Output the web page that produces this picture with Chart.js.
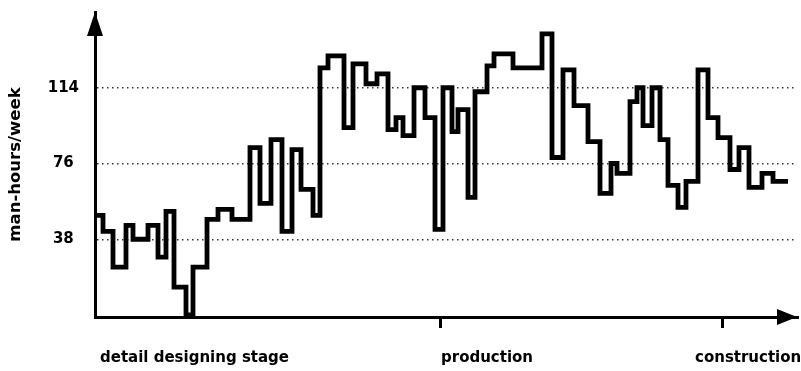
<!DOCTYPE html>
<html>
<head>
<meta charset="utf-8">
<script src="https://cdn.jsdelivr.net/npm/chart.js@4/dist/chart.umd.min.js"></script>
<style>
  html, body { margin: 0; padding: 0; background: #ffffff; }
  #wrap { width: 801px; height: 371px; }
</style>
</head>
<body>
<div id="wrap"><canvas id="c" width="801" height="371"></canvas></div>
<script>
// time position (start of each step) and man-hours/week
const weekStart = [0, 8, 18, 31, 38, 53, 63, 71, 79, 91, 98, 112, 123, 137, 155, 165, 176, 187, 197, 206, 218, 225, 233, 249, 258, 271, 282, 293, 301, 308, 319, 330, 340, 348, 357, 363, 373, 380, 392, 399, 418, 447, 457, 468, 479, 493, 505, 516, 522, 535, 542, 548, 557, 565, 573, 583, 591, 603, 613, 623, 635, 644, 654, 667, 678, 693];
const manHours  = [50, 42, 24, 45, 38, 45, 29, 52, 14, 0, 24, 48, 53, 48, 84, 56, 88, 42, 83, 63, 50, 124, 130, 94, 126, 116, 121, 93, 99, 90, 114, 99, 43, 114, 92, 103, 59, 112, 125, 131, 124, 141, 79, 123, 105, 87, 61, 76, 71, 107, 114, 95, 114, 88, 65, 54, 67, 123, 99, 89, 73, 84, 64, 71, 67, 67];
const yTickValues = [38, 76, 114];
const stageTickValues = [345, 627];
const stageLabelPos = [5, 346, 600];
const stageLabels = ['detail designing stage', 'production', 'construction'];
const yTitle = 'man-hours/week';

const points = weekStart.map((w, i) => ({ x: w, y: manHours[i] }));

Chart.defaults.font.family = "'DejaVu Sans', sans-serif";
Chart.defaults.color = '#000';

function noPad(s) { s.paddingTop = 0; s.paddingBottom = 0; s.paddingLeft = 0; s.paddingRight = 0; }

const arrows = {
  id: 'arrows',
  afterDraw(chart) {
    const { ctx, chartArea: a } = chart;
    ctx.save();
    ctx.fillStyle = '#000';
    ctx.beginPath();
    ctx.moveTo(a.left, a.top);
    ctx.lineTo(a.left - 8, a.top + 24);
    ctx.lineTo(a.left + 8, a.top + 24);
    ctx.closePath();
    ctx.fill();
    ctx.beginPath();
    ctx.moveTo(a.right, a.bottom);
    ctx.lineTo(a.right - 20, a.bottom - 8);
    ctx.lineTo(a.right - 20, a.bottom + 8);
    ctx.closePath();
    ctx.fill();
    ctx.restore();
  }
};

new Chart(document.getElementById('c'), {
  type: 'line',
  data: {
    datasets: [{
      data: points,
      stepped: true,
      borderColor: '#000',
      borderWidth: 4.8,
      pointRadius: 0,
      fill: false,
      borderJoinStyle: 'miter',
      borderCapStyle: 'butt'
    }]
  },
  options: {
    responsive: false,
    animation: false,
    devicePixelRatio: 1,
    layout: { padding: { left: 0, right: 4, top: 12, bottom: 0 } },
    plugins: { legend: { display: false }, tooltip: { enabled: false } },
    scales: {
      y: {
        type: 'linear',
        min: -1,
        max: 152,
        afterBuildTicks: s => { s.ticks = yTickValues.map(v => ({ value: v })); },
        afterFit: s => { s.width = 95; noPad(s); },
        ticks: {
          crossAlign: 'center',
          padding: 16,
          font: { size: 15, weight: 'bold' },
          color: '#000'
        },
        grid: {
          drawTicks: false,
          color: '#333',
          lineWidth: 1.4
        },
        border: { display: true, color: '#000', width: 3, dash: [1.5, 3.5] },
        title: {
          display: true,
          text: yTitle,
          color: '#000',
          font: { size: 16.5, weight: 'bold' },
          padding: { top: 6, bottom: 0 }
        }
      },
      x: {
        type: 'linear',
        position: 'bottom',
        min: 0,
        max: 702,
        afterBuildTicks: s => { s.ticks = stageTickValues.map(v => ({ value: v })); },
        afterFit: s => { s.height = 20; noPad(s); },
        ticks: { callback: () => '', padding: 0 },
        grid: {
          drawOnChartArea: false,
          drawTicks: true,
          tickLength: 11,
          color: '#000',
          lineWidth: 3
        },
        border: { display: true, color: '#000', width: 3 }
      },
      x2: {
        type: 'linear',
        position: 'bottom',
        min: 0,
        max: 702,
        afterBuildTicks: s => { s.ticks = stageLabelPos.map(v => ({ value: v })); },
        afterFit: s => { s.height = 34; noPad(s); },
        ticks: {
          align: 'start',
          padding: 12,
          font: { size: 15, weight: 'bold' },
          color: '#000',
          maxRotation: 0,
          autoSkip: false,
          callback: (v) => stageLabels[stageLabelPos.indexOf(v)]
        },
        grid: { display: false, drawTicks: false },
        border: { display: false }
      }
    }
  },
  plugins: [arrows]
});
</script>
</body>
</html>
